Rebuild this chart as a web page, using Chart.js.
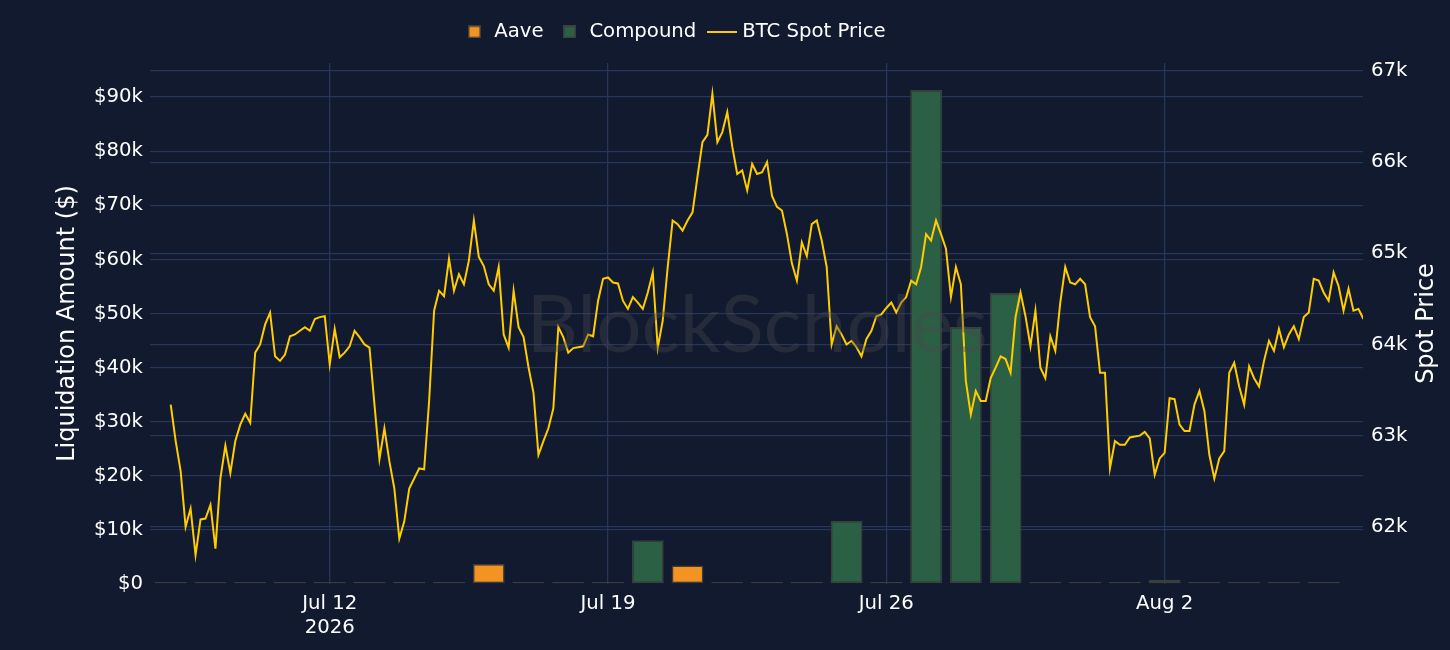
<!DOCTYPE html>
<html>
<head>
<meta charset="utf-8">
<title>DeFi liquidations vs BTC spot</title>
<script src="https://cdn.jsdelivr.net/npm/chart.js@4.4.1/dist/chart.umd.min.js"></script>
<style>
  html, body { margin: 0; padding: 0; background: #111a2e; }
  #wrap { width: 1450px; height: 650px; }
</style>
</head>
<body>
<div id="wrap"><canvas id="chart"></canvas></div>
<script>
const DAY = 86400000
const HOUR = 3600000

// daily liquidations in $, one bar per day from Jul 8 to Aug 6 2026
const firstDay = Date.UTC(2026, 6, 8)
const aave = [0, 0, 250, 0, 0, 0, 400, 0, 3700, 0,
  0, 0, 0, 3400, 0, 0, 0, 0, 0, 0,
  0, 0, 400, 0, 0, 0, 0, 0, 0, 0]
const compound = [0, 0, 0, 0, 0, 0, 0, 0, 0, 0,
  0, 0, 8100, 0, 0, 0, 0, 11700, 0, 91300,
  47500, 53800, 0, 0, 0, 800, 0, 0, 0, 0]

// BTC spot price, a reading every 3 hours from Jul 8 00:00
const spotStepHours = 3
const btcSpot = [
  63340, 62940, 62610, 62000, 62200, 61690, 62080, 62090,
  62240, 61760, 62530, 62890, 62590, 62940, 63120, 63240,
  63140, 63910, 64000, 64220, 64350, 63870, 63820, 63890,
  64090, 64110, 64150, 64190, 64150, 64280, 64300, 64310,
  63780, 64170, 63860, 63910, 63980, 64150, 64080, 64000,
  63965, 63340, 62740, 63080, 62720, 62420, 61870, 62060,
  62420, 62530, 62640, 62630, 63380, 64370, 64590, 64530,
  64940, 64590, 64770, 64660, 64920, 65360, 64960, 64860,
  64660, 64590, 64850, 64110, 63965, 64590, 64190, 64080,
  63750, 63470, 62790, 62940, 63080, 63300, 64190, 64080,
  63910, 63960, 63970, 63980, 64110, 64090, 64480, 64720,
  64735, 64680, 64670, 64480, 64390, 64520, 64460, 64390,
  64570, 64790, 63965, 64260, 64846, 65360, 65320, 65250,
  65360, 65450, 65840, 66220, 66300, 66750, 66220, 66330,
  66550, 66170, 65870, 65910, 65690, 65980, 65870, 65890,
  66000, 65630, 65510, 65470, 65210, 64890, 64700, 65120,
  64970, 65320, 65360, 65140, 64850, 64000, 64200, 64110,
  64000, 64040, 63970, 63870, 64060, 64150, 64310, 64330,
  64400, 64460, 64350, 64460, 64520, 64700, 64660, 64850,
  65210, 65140, 65360, 65210, 65050, 64520, 64850, 64660,
  63600, 63230, 63490, 63380, 63380, 63630, 63745, 63870,
  63840, 63690, 64300, 64570, 64310, 63980, 64370, 63745,
  63630, 64090, 63930, 64460, 64850, 64680, 64660, 64720,
  64660, 64300, 64200, 63690, 63690, 62640, 62940, 62900,
  62900, 62980, 62990, 63000, 63040, 62970, 62570, 62750,
  62810, 63410, 63400, 63120, 63050, 63050, 63340, 63490,
  63270, 62790, 62530, 62750, 62830, 63690, 63800, 63540,
  63340, 63760, 63630, 63540, 63820, 64040, 63930, 64170,
  63970, 64110, 64200, 64060, 64300, 64350, 64720, 64700,
  64570, 64480, 64790, 64640, 64370, 64610, 64370, 64390,
  64280
]

const leftTicks = [0, 10000, 20000, 30000, 40000, 50000, 60000, 70000, 80000, 90000]
const leftTickLabels = ['$0', '$10k', '$20k', '$30k', '$40k', '$50k', '$60k', '$70k', '$80k', '$90k']
const rightTicks = [62000, 63000, 64000, 65000, 66000, 67000]
const rightTickLabels = ['62k', '63k', '64k', '65k', '66k', '67k']
const dateTicks = [Date.UTC(2026, 6, 12), Date.UTC(2026, 6, 19), Date.UTC(2026, 6, 26), Date.UTC(2026, 7, 2)]
const dateTickLabels = [['Jul 12', '2026'], 'Jul 19', 'Jul 26', 'Aug 2']

const aaveColor = '#f39322'
const compoundColor = '#2c6044'
const barEdge = '#3d3d3d'
const spotColor = '#ffcc00'
const gridColor = '#26375a'
const textColor = '#ffffff'
const fontFamily = 'DejaVu Sans'

const aavePoints = aave.map((v, i) => ({ x: firstDay + i * DAY, y: v }))
const compoundPoints = compound.map((v, i) => ({ x: firstDay + i * DAY, y: v }))
const spotPoints = btcSpot.map((v, i) => ({ x: firstDay + i * spotStepHours * HOUR, y: v }))

// little legend swatches
function swatch (w, h, fill, edge) {
  const c = document.createElement('canvas')
  c.width = w
  c.height = h
  const g = c.getContext('2d')
  if (edge) {
    g.fillStyle = edge
    g.fillRect(0, 0, w, h)
    g.fillStyle = fill
    g.fillRect(1.5, 1.5, w - 3, h - 3)
  } else {
    g.fillStyle = fill
    g.fillRect(0, 0, w, h)
  }
  return c
}
const swatches = [
  swatch(13, 13, aaveColor, barEdge),
  swatch(13, 13, compoundColor, barEdge),
  swatch(30, 2, spotColor)
]

const layoutFix = {
  id: 'layoutFix',
  beforeUpdate (chart) {
    const lg = chart.legend
    if (lg && !lg._fixed) {
      const fit = lg.fit
      lg.fit = function () { fit.call(this); this.height = 63 }
      lg._fixed = true
    }
  },
  afterLayout (chart) {
    const lg = chart.legend
    if (!lg) return
    lg.left -= 50
    lg.right -= 50
    lg.top += 6
    lg.bottom += 6
  }
}

const watermark = {
  id: 'watermark',
  afterDatasetsDraw (chart) {
    const ctx = chart.ctx
    ctx.save()
    ctx.font = '80px Lato'
    ctx.fillStyle = 'rgba(72, 72, 80, 0.38)'
    ctx.textAlign = 'center'
    ctx.textBaseline = 'alphabetic'
    ctx.fillText('BlockScholes', 757, 352)
    ctx.restore()
  },
  afterDraw (chart) {
    // right axis title reads bottom to top, like the left one
    const ctx = chart.ctx
    const area = chart.chartArea
    ctx.save()
    ctx.translate(1427, (area.top + area.bottom) / 2)
    ctx.rotate(-Math.PI / 2)
    ctx.font = '24px "' + fontFamily + '"'
    ctx.fillStyle = textColor
    ctx.textAlign = 'center'
    ctx.textBaseline = 'middle'
    ctx.fillText('Spot Price', 0, 0)
    ctx.restore()
  }
}

const barStyle = {
  borderColor: barEdge,
  borderWidth: 1.5,
  borderSkipped: false,
  grouped: false,
  minBarLength: 2,
  barPercentage: 0.8,
  categoryPercentage: 1,
  yAxisID: 'y'
}

const chart = new Chart(document.getElementById('chart'), {
  type: 'bar',
  data: {
    datasets: [
      Object.assign({ label: 'Aave', data: aavePoints, backgroundColor: aaveColor, order: 2 }, barStyle),
      Object.assign({ label: 'Compound', data: compoundPoints, backgroundColor: compoundColor, order: 1 }, barStyle),
      {
        type: 'line',
        label: 'BTC Spot Price',
        data: spotPoints,
        borderColor: spotColor,
        backgroundColor: spotColor,
        borderWidth: 2,
        pointRadius: 0,
        tension: 0,
        yAxisID: 'y1',
        order: 0
      }
    ]
  },
  options: {
    responsive: true,
    maintainAspectRatio: false,
    animation: false,
    layout: { padding: 0 },
    plugins: {
      tooltip: { enabled: false },
      legend: {
        position: 'top',
        align: 'center',
        labels: {
          color: textColor,
          font: { family: fontFamily, size: 19.7 },
          usePointStyle: true,
          pointStyleWidth: 20,
          padding: 16,
          sort: (a, b) => a.datasetIndex - b.datasetIndex,
          generateLabels (chart) {
            const items = Chart.defaults.plugins.legend.labels.generateLabels(chart)
            items.forEach(it => { it.pointStyle = swatches[it.datasetIndex] })
            return items
          }
        }
      }
    },
    scales: {
      x: {
        type: 'linear',
        min: Date.UTC(2026, 6, 7, 11, 30),
        max: Date.UTC(2026, 7, 6, 23, 45),
        offset: false,
        border: { display: false },
        grid: { color: gridColor, lineWidth: 1.3, drawTicks: false, offset: false },
        afterBuildTicks (s) { s.ticks = dateTicks.map(v => ({ value: v })) },
        afterFit (s) { s.height = 66 },
        ticks: {
          color: textColor,
          font: { family: fontFamily, size: 19.7 },
          padding: 8,
          maxRotation: 0,
          autoSkip: false,
          callback: (v, i) => dateTickLabels[i]
        }
      },
      y: {
        position: 'left',
        min: 0,
        max: 96300,
        border: { display: false },
        grid: {
          color: c => (c.tick && c.tick.value === 0) ? 'rgba(0,0,0,0)' : gridColor,
          lineWidth: 1.3,
          drawTicks: false
        },
        afterBuildTicks (s) { s.ticks = leftTicks.map(v => ({ value: v })) },
        afterFit (s) { s.width = 150 },
        ticks: {
          color: textColor,
          font: { family: fontFamily, size: 19.7 },
          padding: 7,
          callback: (v, i) => leftTickLabels[i]
        },
        title: {
          display: true,
          text: 'Liquidation Amount ($)',
          color: textColor,
          font: { family: fontFamily, size: 24 },
          padding: { top: 53, bottom: 0 }
        }
      },
      y1: {
        position: 'right',
        min: 61372,
        max: 67088,
        border: { display: false },
        grid: { color: gridColor, lineWidth: 1.3, drawTicks: false },
        afterBuildTicks (s) { s.ticks = rightTicks.map(v => ({ value: v })) },
        afterFit (s) { s.width = 87 },
        ticks: {
          color: textColor,
          font: { family: fontFamily, size: 19.7 },
          padding: 8,
          callback: (v, i) => rightTickLabels[i]
        }
      }
    }
  },
  plugins: [layoutFix, watermark]
})
</script>
</body>
</html>
